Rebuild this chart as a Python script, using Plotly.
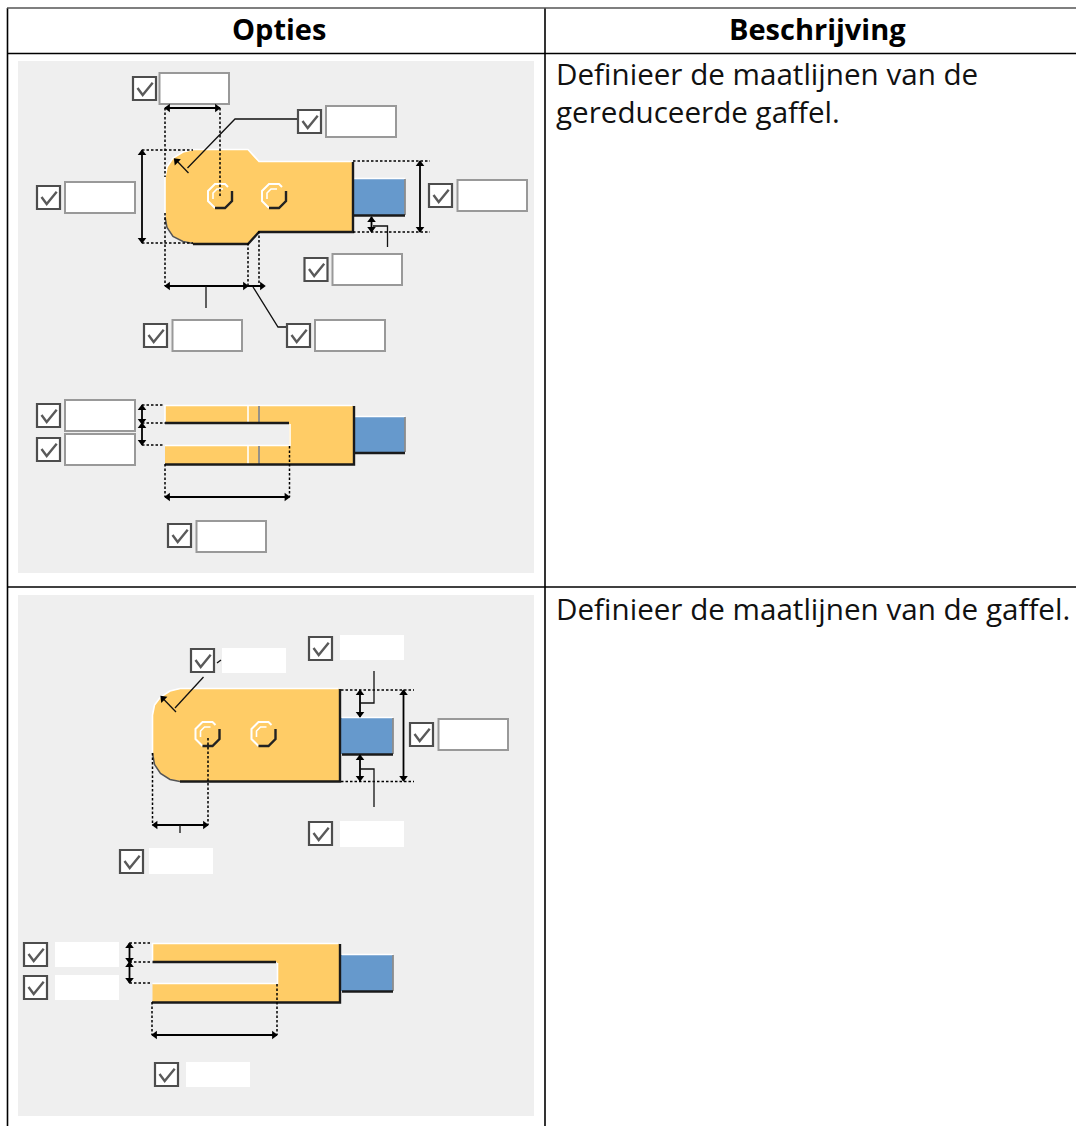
import plotly.graph_objects as go

# ---- text ----
HEADERS = ["Opties", "Beschrijving"]
HEADER_X = [279, 817]
ROW1_TEXT = ["Definieer de maatlijnen van de", "gereduceerde gaffel."]
ROW2_TEXT = ["Definieer de maatlijnen van de gaffel."]

# ---- table ----
PANELS = [(18, 61, 534, 573), (18, 595, 534, 1116)]
TABLE_LINES = [[(7, 53.5), (1076, 53.5)], [(7, 587), (1076, 587)],
               [(7.5, 8), (7.5, 1126)], [(545, 8), (545, 1126)]]
TABLE_TOP = [(7, 8), (1076, 8)]

# ---- check boxes (left, top) and fields (left, top, right, bottom) ----
CHECKS = [(132, 76), (297, 109), (36, 185), (428, 183), (303.5, 257), (143, 323), (286, 323),
          (36, 403), (36, 437), (167, 523),
          (190, 648), (308, 636), (409, 722), (308, 821), (119, 849),
          (23, 942), (23, 975), (154, 1062)]
FIELDS_BORDERED = [(159.5, 73, 229, 104), (326, 106, 396, 137), (65, 182, 135, 213), (457.5, 180, 527, 211),
                   (332.5, 254, 402, 285), (172.5, 320, 242, 351), (315, 320, 385, 351),
                   (65, 400, 135, 431), (65, 434, 135, 465), (196.5, 521, 266, 552),
                   (438.5, 719, 508, 750)]
FIELDS_PLAIN = [(222, 648, 286, 673), (340, 635, 404, 660), (340, 821, 404, 847), (149, 848, 213, 874),
                (55, 942, 119, 967), (55, 975, 119, 1000), (186, 1062, 250, 1087)]
CHECK_MARK = [(5.5, 12), (10.7, 19), (20.7, 6.7)]

# ---- parts ----
FORK_TOP_1 = [(193, 150), (248, 150), (259, 162), (353, 162), (353, 231), (259, 231), (248, 243), (193, 243),
              (183, 241), (173, 236), (167, 227), (165, 217), (165, 177), (167, 167), (173, 158), (183, 152)]
FORK_SIDE_1 = [(165, 406), (353, 406), (353, 464), (165, 464), (165, 446), (289, 446), (289, 423), (165, 423)]
FORK_TOP_2 = [(180, 689), (339, 689), (339, 781), (180, 781), (170, 779), (160.5, 773), (154.5, 764),
              (152.5, 753), (152.5, 715), (154.5, 705), (160.5, 697), (170, 691)]
FORK_SIDE_2 = [(152.5, 944), (339, 944), (339, 1002), (152.5, 1002), (152.5, 984), (277, 984), (277, 962), (152.5, 962)]
BLUE_RECTS = [(353.5, 179, 405, 215), (353.5, 417, 405, 452.5), (341, 718, 393, 754), (341, 955, 393, 991)]

WHITE_EDGES = [
    [(165, 217), (165, 177), (167, 167), (173, 158), (183, 152), (193, 149.5), (248, 149.5), (259, 161.5), (352, 161.5)],
    [(354, 178.5), (405, 178.5)],
    [(165, 423), (165, 405.5), (352, 405.5)],
    [(165, 445.5), (290, 445.5), (290, 424)],
    [(354, 416.5), (405, 416.5)],
    [(248, 406), (248, 423)], [(248, 446), (248, 464)],
    [(152.5, 753), (152.5, 715), (154.5, 705), (160.5, 697), (170, 691), (180, 688.5), (338, 688.5)],
    [(342, 717.5), (393, 717.5)],
    [(152.5, 962), (152.5, 943.5), (338, 943.5)],
    [(152.5, 983.5), (277.5, 983.5), (277.5, 963)],
    [(342, 954.5), (393, 954.5)],
]
BLACK_EDGES = [
    [(353, 162), (353, 232), (259, 232), (248, 244), (193, 244)],
    [(354, 215.5), (405, 215.5)],
    [(165, 423), (289, 423)],
    [(165, 464.5), (354, 464.5), (354, 406)],
    [(354, 453), (405, 453)],
    [(340, 689), (340, 781.5), (180, 781.5)],
    [(342, 754.5), (393, 754.5)],
    [(152.5, 962), (276, 962)],
    [(152, 1002.5), (340, 1002.5), (340, 944)],
    [(342, 991.5), (393, 991.5)],
]
THIN_DARK_EDGES = [
    [(193, 243.5), (183, 241.5), (173, 236.5), (167, 227.5), (165, 217)],
    [(180, 781.5), (170, 779.5), (160.5, 773.5), (154.5, 764.5), (152.5, 753)],
]
GRAY_EDGES = [
    [(405, 179), (405, 215)], [(405, 417), (405, 452)], [(393, 718), (393, 754)], [(393, 955), (393, 991)],
    [(259, 406), (259, 423)], [(259, 446), (259, 464)],
]

# ---- nuts ----
NUT_CENTERS = [(220, 196), (274, 196), (207.5, 734), (263.5, 734)]
NUT_LIGHT = [(-5, 12), (-12, 5), (-12, -5), (-5, -12), (5, -12), (8, -9)]
NUT_DARK = [(12, -5), (12, 5), (5, 12), (-5, 12)]
NUT_INNER_LIGHT = [(-7, 3), (-7, -3), (-3, -7), (3, -7)]

# ---- dimension lines ----
DOTTED = [
    [(165, 108), (165, 177)], [(165, 213), (165, 286)], [(220, 108), (220, 197)],
    [(142, 150), (193, 150)], [(142, 243), (193, 243)], [(353, 161), (430, 161)], [(353, 232), (430, 232)],
    [(248, 243), (248, 286)], [(259, 231), (259, 286)],
    [(142, 405), (163, 405)], [(142, 423), (165, 423)], [(142, 445), (163, 445)],
    [(289.5, 446), (289.5, 497)], [(165, 464), (165, 497)],
    [(152.5, 753), (152.5, 825)], [(208, 738), (208, 825)],
    [(341, 690), (414, 690)], [(341, 781.5), (414, 781.5)],
    [(129.5, 943), (150, 943)], [(129.5, 962), (152, 962)], [(129.5, 983), (150, 983)],
    [(152, 1002), (152, 1035)], [(277, 984), (277, 1035)],
]
SOLID = [
    [(165, 108), (220, 108)],
    [(142, 150), (142, 243)],
    [(420, 161), (420, 232)],
    [(371.5, 217), (371.5, 232)],
    [(165, 286), (263, 286)],
    [(142, 405), (142, 445)],
    [(165, 497), (289.5, 497)],
    [(403.5, 690), (403.5, 781)],
    [(360, 690), (360, 717)], [(360, 755), (360, 781)],
    [(152.5, 825), (208, 825)],
    [(129.5, 943), (129.5, 983)],
    [(152, 1035), (277, 1035)],
]
LEADERS = [
    [(297, 119), (235, 119), (187.5, 168)],
    [(188.5, 173), (176, 160)],
    [(373, 226), (387.5, 226), (387.5, 247)],
    [(206, 286), (206, 308)],
    [(253, 287), (278, 327), (286, 327)],
    [(180, 825), (180, 833)],
    [(203.5, 677), (175, 708)],
    [(176, 712), (162.5, 698)],
    [(217, 663), (221, 660)],
    [(360, 703), (374, 703), (374, 671)],
    [(360, 769), (374, 769), (374, 807)],
]
ARROWS_UP = [(142, 153), (420, 164), (371.5, 220), (142, 408), (142, 426), (403.5, 693), (360, 693), (360, 758),
             (129.5, 946), (129.5, 965)]
ARROWS_DOWN = [(142, 240), (420, 229), (371.5, 229), (142, 421), (142, 442), (403.5, 778), (360, 714), (360, 778),
               (129.5, 960), (129.5, 980)]
ARROWS_LEFT = [(168, 108), (168, 286), (168, 497), (155.5, 825), (155, 1035)]
ARROWS_RIGHT = [(217, 108), (245, 286), (286.5, 497), (205, 825), (274, 1035), (262, 286)]
ARROWS_DIAG = [(176.5, 161), (163, 698.5)]

PANEL_COLOR = "#efefef"
ORANGE = "#ffcc66"
BLUE = "#6699cc"
FONT = "Open Sans"


def polylines(groups):
    xs, ys = [], []
    for g in groups:
        xs += [p[0] for p in g] + [None]
        ys += [p[1] for p in g] + [None]
    return xs, ys


fig = go.Figure()
shapes = []


def rect(x0, y0, x1, y1, fill, line=None, w=0):
    shapes.append(dict(type="rect", xref="x", yref="y", x0=x0, y0=y0, x1=x1, y1=y1, fillcolor=fill,
                       line=dict(color=line or fill, width=w), layer="below"))


for p in PANELS:
    rect(*p, PANEL_COLOR)
for f in FIELDS_BORDERED:
    rect(*f, "#ffffff", "#999999", 2)
for f in FIELDS_PLAIN:
    rect(*f, "#ffffff")
for c in CHECKS:
    rect(c[0] + 1, c[1] + 1, c[0] + 24, c[1] + 24, "#ffffff", "#4d4d4d", 2.2)


def add_lines(groups, color, width, dash=None):
    xs, ys = polylines(groups)
    fig.add_trace(go.Scatter(x=xs, y=ys, mode="lines", hoverinfo="skip",
                             line=dict(color=color, width=width, dash=dash)))


def add_fill(pts, color):
    fig.add_trace(go.Scatter(x=[p[0] for p in pts] + [pts[0][0]], y=[p[1] for p in pts] + [pts[0][1]],
                             mode="lines", fill="toself", fillcolor=color, line=dict(width=0, color=color),
                             hoverinfo="skip"))


add_lines(TABLE_LINES, "#000000", 1.6)
add_lines([TABLE_TOP], "#555555", 1.6)

for part in (FORK_TOP_1, FORK_SIDE_1, FORK_TOP_2, FORK_SIDE_2):
    add_fill(part, ORANGE)
for x0, y0, x1, y1 in BLUE_RECTS:
    add_fill([(x0, y0), (x1, y0), (x1, y1), (x0, y1)], BLUE)

add_lines(WHITE_EDGES, "#ffffff", 1.6)
add_lines(GRAY_EDGES, "#8c8c8c", 1.8)
add_lines(THIN_DARK_EDGES, "#555555", 1.5)
add_lines(BLACK_EDGES, "#1a1a1a", 2.4)

for name_pts, col, w in ((NUT_LIGHT, "#ffffff", 2), (NUT_INNER_LIGHT, "#ffffff", 1.6), (NUT_DARK, "#222222", 2.4)):
    add_lines([[(cx + dx, cy + dy) for dx, dy in name_pts] for cx, cy in NUT_CENTERS], col, w)

add_lines(DOTTED, "#000000", 1.5, "2.5px,2px")
add_lines(SOLID, "#000000", 1.8)
add_lines(LEADERS, "#111111", 1.3)

add_lines([[(c[0] + dx, c[1] + dy) for dx, dy in CHECK_MARK] for c in CHECKS], "#5a5a5a", 2.4)

for pts, sym, ang in ((ARROWS_UP, "triangle-up", 0), (ARROWS_DOWN, "triangle-down", 0),
                      (ARROWS_LEFT, "triangle-left", 0), (ARROWS_RIGHT, "triangle-right", 0),
                      (ARROWS_DIAG, "triangle-up", -45)):
    fig.add_trace(go.Scatter(x=[p[0] for p in pts], y=[p[1] for p in pts], mode="markers", hoverinfo="skip",
                             marker=dict(symbol=sym, size=7.5, color="#000000", angle=ang, line=dict(width=0))))

annotations = []


def text(x, y, s, anchor="left", bold=False):
    annotations.append(dict(x=x, y=y, xref="x", yref="y", text=f"<b>{s}</b>" if bold else s, showarrow=False,
                            xanchor=anchor, yanchor="middle", align=anchor, xshift=0,
                            font=dict(family=FONT, size=29 if bold else 29.6, color="#000000" if bold else "#111111")))


for hx, h in zip(HEADER_X, HEADERS):
    text(hx, 28, h, "center", True)
text(554, 92, "<br>".join(ROW1_TEXT))
text(554, 608, ROW2_TEXT[0])

fig.update_layout(width=1076, height=1126, autosize=False, showlegend=False,
                  margin=dict(l=0, r=0, t=0, b=0, pad=0), paper_bgcolor="#ffffff", plot_bgcolor="#ffffff",
                  xaxis=dict(range=[0, 1076], visible=False, fixedrange=True),
                  yaxis=dict(range=[1126, 0], visible=False, fixedrange=True),
                  shapes=shapes, annotations=annotations)
fig.write_html("out.html", config={"displayModeBar": False},
               post_script="document.body.style.margin='0';document.body.style.overflow='hidden';")
